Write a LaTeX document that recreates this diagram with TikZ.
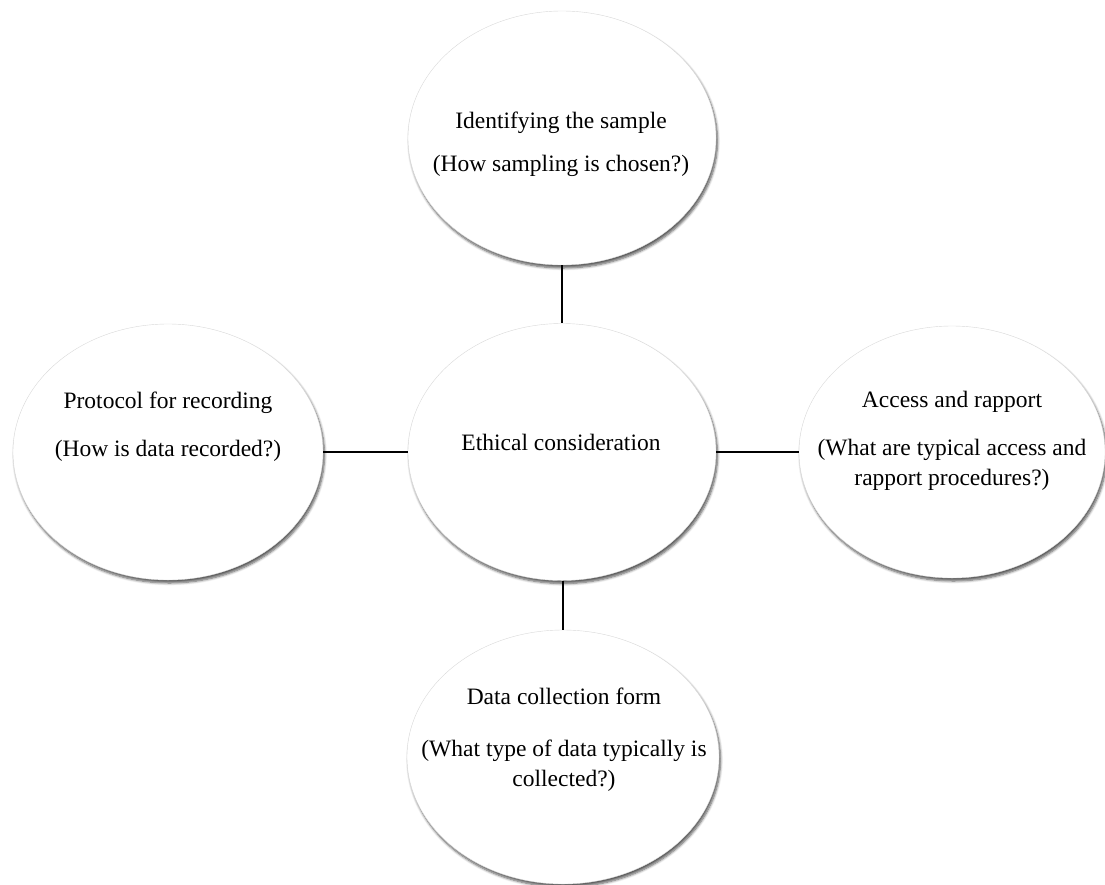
\documentclass[tikz,border=0pt]{standalone}
\usepackage{fontspec}
\setmainfont{Liberation Serif}
\usetikzlibrary{shapes.geometric,shadows.blur}
\begin{document}
\begin{tikzpicture}[x=1pt,y=-1pt,
  bubble/.style={ellipse, draw=gray!30, line width=0.4pt, fill=white,
    inner sep=0pt, minimum width=#1,
    blur shadow={shadow xshift=1.5pt, shadow yshift=-3pt,
      shadow blur steps=6, shadow opacity=65, shadow blur radius=2.5pt}},
  bubble/.default=308pt,
  label/.style={align=center, inner sep=0pt,
    font=\fontsize{23.5}{30}\selectfont},
  link/.style={line width=1.9pt, black}]
\useasboundingbox (0,0) rectangle (1105,884);

% outer bubbles and the central one
\node[bubble=308pt, minimum height=254pt] (sample)  at (562,138) {};
\node[bubble=308pt, minimum height=257pt] (ethics)  at (562,452) {};
\node[bubble=310pt, minimum height=256pt] (record)  at (168,452) {};
\node[bubble=306pt, minimum height=252pt] (access)  at (952,452) {};
\node[bubble=312pt, minimum height=254pt] (collect) at (563,757) {};

% texts
\node[label] (tsample) at (561,144) {Identifying the sample\\[13pt](How sampling is chosen?)};
\node[label] (tethics) at (561,442) {Ethical consideration};
\node[label] (trecord) at (168,427) {Protocol for recording\\[18pt](How is data recorded?)};
\node[label] (taccess) at (952,441) {Access and rapport\\[18pt](What are typical access and\\rapport procedures?)};
\node[label] (tcollect) at (564,740) {Data collection form\\[22pt](What type of data typically is\\collected?)};

% connectors, kept straight
\draw[link] (sample.south) -- (ethics.north);
\draw[link] (ethics.south -| collect.north) -- (collect.north);
\draw[link] (record.east) -- (ethics.west);
\draw[link] (ethics.east) -- (access.west);
\end{tikzpicture}
\end{document}
